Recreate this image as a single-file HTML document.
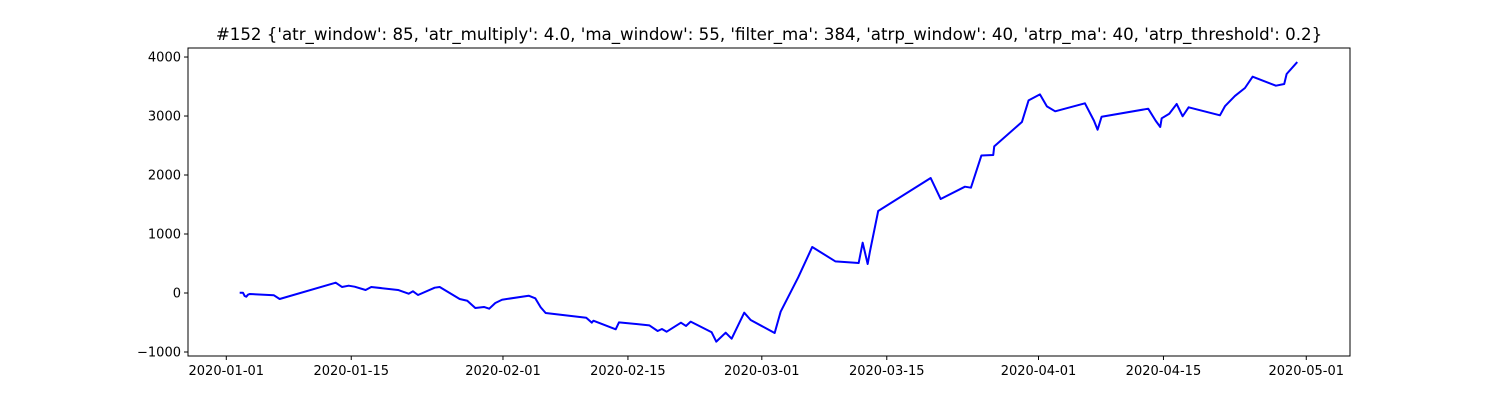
<!DOCTYPE html>
<html><head><meta charset="utf-8"><style>
html,body{margin:0;padding:0;background:#fff;}
svg{display:block;font-family:"DejaVu Sans","Liberation Sans",sans-serif;}
</style></head><body>
<svg id="chart" width="1500" height="400" viewBox="0 0 1500 400">
<text x="769" y="40" text-anchor="middle" font-size="16.65">#152 {'atr_window': 85, 'atr_multiply': 4.0, 'ma_window': 55, 'filter_ma': 384, 'atrp_window': 40, 'atrp_ma': 40, 'atrp_threshold': 0.2}</text>
<g id="plot"></g>
</svg>
<script>
// days since 2020-01-01
const days = [1.50,1.87,2.06,2.24,2.43,2.62,5.34,5.98,12.26,12.96,13.71,14.38,15.61,16.24,19.24,20.43,20.92,21.48,23.35,23.91,26.15,27.0,27.9,28.87,29.46,30.14,30.89,33.88,34.62,35.22,35.78,40.33,40.95,41.13,43.63,44.0,47.39,48.33,48.81,49.34,50.94,51.5,52.03,54.38,54.9,55.95,56.62,58.03,58.75,61.44,62.11,64.08,65.65,68.23,70.85,71.3,71.86,72.11,73.04,78.92,80.04,82.76,83.43,84.6,85.93,86.04,89.14,89.89,91.16,91.94,92.87,96.2,97.21,97.62,98.07,103.29,104.12,104.64,104.8,105.65,106.48,107.15,107.82,111.33,111.89,113.01,114.13,114.99,117.6,118.53,118.8,119.99];
const equity = [5,5,-51,-63,-29,-17,-39,-102,175,102,124,107,51,102,51,-12,29,-34,90,102,-102,-131,-254,-237,-266,-169,-114,-46,-90,-242,-339,-420,-503,-470,-615,-497,-548,-644,-610,-656,-503,-559,-486,-666,-825,-673,-775,-334,-458,-678,-317,266,780,537,508,853,492,700,1390,1949,1593,1802,1785,2330,2339,2486,2898,3266,3367,3164,3080,3216,2922,2768,2988,3124,2922,2814,2961,3039,3204,2996,3148,3012,3166,3340,3475,3667,3514,3543,3712,3915];
const yTicks = [-1000,0,1000,2000,3000,4000];
const xTickDays = [0,14,31,45,60,74,91,105,121];
const xTickLabels = ["2020-01-01","2020-01-15","2020-02-01","2020-02-15","2020-03-01","2020-03-15","2020-04-01","2020-04-15","2020-05-01"];

const L=188,R=1350,T=48,B=356;
const d0=-4.29,d1=125.9,v0=-1068,v1=4153;
const x=d=>L+(d-d0)/(d1-d0)*(R-L);
const y=v=>B-(v-v0)/(v1-v0)*(B-T);
const NS="http://www.w3.org/2000/svg";
const g=document.getElementById('plot');
function mk(tag,attrs){const e=document.createElementNS(NS,tag);for(const k in attrs)e.setAttribute(k,attrs[k]);g.appendChild(e);return e;}

let pts=days.map((d,i)=>x(d).toFixed(2)+","+y(equity[i]).toFixed(2)).join(" ");
const line=mk('polyline',{points:pts,fill:'none',stroke:'#0000ff','stroke-width':2,'stroke-linejoin':'round'});



const frame=mk('rect',{x:L,y:T,width:R-L,height:B-T,fill:'none',stroke:'#000','stroke-width':1});



yTicks.forEach(v=>{
  const yy=y(v);
  const t=mk('line',{x1:L-4,x2:L,y1:yy,y2:yy,stroke:'#000'});
  
  
  const lb=mk('text',{x:L-7,y:yy+4.5,'text-anchor':'end','font-size':13});
  lb.textContent=v<0?'\u2212'+Math.abs(v):String(v);
  
  
});
xTickDays.forEach((d,i)=>{
  const xx=x(d);
  const t=mk('line',{x1:xx,x2:xx,y1:B,y2:B+4,stroke:'#000'});
  
  
  const lb=mk('text',{x:xx,y:B+19,'text-anchor':'middle','font-size':13});
  lb.textContent=xTickLabels[i];
  
  
});
</script>
</body></html>
